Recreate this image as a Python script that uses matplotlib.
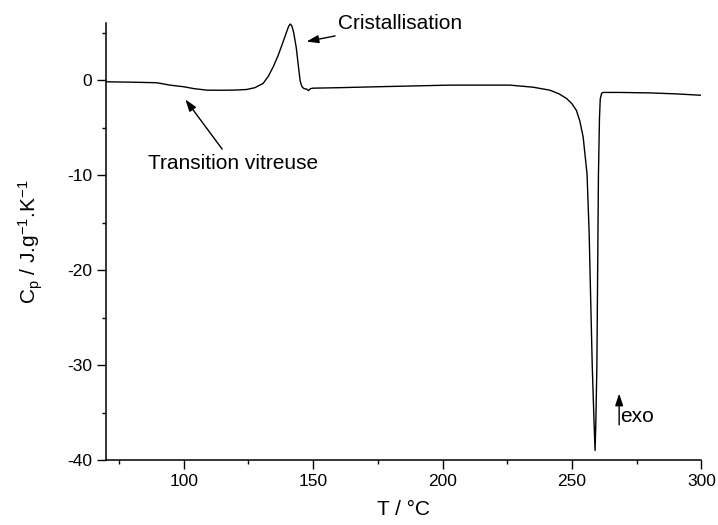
import matplotlib
matplotlib.use('Agg')
import matplotlib.pyplot as plt
from matplotlib.ticker import MultipleLocator

plt.rcParams['font.family'] = ['Liberation Sans', 'DejaVu Sans']
plt.rcParams['mathtext.fontset'] = 'custom'
plt.rcParams['mathtext.rm'] = 'Liberation Sans'
plt.rcParams['mathtext.it'] = 'Liberation Sans'
plt.rcParams['axes.unicode_minus'] = False

# DSC curve
temperature = [70, 80, 89.6, 94.7, 100, 104, 109, 115, 120, 124.3, 127.5,
               130.7, 132.7, 134.6, 136.5, 138.5, 139.8, 140.6, 141.2, 141.8,
               142.5, 143.5, 144.3, 145, 145.7, 146.5, 147.5, 148.2, 149, 150,
               160, 175, 202.8, 226, 235, 241.4, 245, 247.9, 250, 251.7, 253,
               254.3, 255.8, 256.6, 257.8, 258.5, 258.9, 259.2, 259.6, 259.9,
               260.2, 260.6, 260.9, 261.4, 262, 268.5, 280, 290, 300]
cp = [-0.18, -0.22, -0.28, -0.53, -0.7, -0.9, -1.06, -1.07, -1.05, -0.99,
      -0.8, -0.35, 0.4, 1.4, 2.6, 4.1, 5.1, 5.7, 5.9, 5.7, 5.0, 3.4, 1.5,
      -0.1, -0.7, -0.9, -0.95, -1.1, -0.9, -0.85, -0.8, -0.7, -0.53, -0.53,
      -0.75, -1.06, -1.45, -1.94, -2.5, -3.2, -4.3, -6.0, -9.9, -16, -30,
      -36, -39, -36, -30, -20, -10, -4, -2, -1.4, -1.3, -1.3, -1.35, -1.45,
      -1.6]

fig = plt.figure(figsize=(7.18, 5.25), dpi=100)
ax = fig.add_axes([0.1476, 0.1238, 0.977 - 0.1476, 0.956 - 0.1238])
ax.plot(temperature, cp, color='black', lw=1.0)

ax.set_xlim(70, 300)
ax.set_ylim(-40, 6)
ax.xaxis.set_major_locator(MultipleLocator(50))
ax.xaxis.set_minor_locator(MultipleLocator(25))
ax.yaxis.set_major_locator(MultipleLocator(10))
ax.yaxis.set_minor_locator(MultipleLocator(5))
for side in ['top', 'right']:
    ax.spines[side].set_visible(False)
for side in ['left', 'bottom']:
    ax.spines[side].set_linewidth(1.1)
ax.tick_params(which='major', direction='out', length=6.5, width=1.0, labelsize=12.5)
ax.tick_params(which='minor', direction='out', length=3.2, width=1.0)

ax.set_xlabel('T / °C', fontsize=15, labelpad=8)
ax.set_ylabel('C$_\\mathrm{p}$ / J.g$^{-1}$.K$^{-1}$', fontsize=15, labelpad=16)

arrow = dict(arrowstyle='-|>,head_length=0.6,head_width=0.2', color='black',
             lw=1.0, mutation_scale=12)
ax.annotate('Cristallisation', xy=(146.4, 4.0), xytext=(159.6, 6.0),
            fontsize=15, va='center', ha='left', arrowprops=arrow)
ax.annotate('Transition vitreuse', xy=(100, -1.8), xytext=(86.2, -8.8),
            fontsize=15, va='center', ha='left', arrowprops=arrow)
ax.annotate('', xy=(268.2, -33.0), xytext=(268.2, -36.3),
            arrowprops=dict(arrow, shrinkA=0, shrinkB=0))
ax.text(268.6, -35.4, 'exo', fontsize=15, va='center', ha='left')

fig.savefig('out.png', dpi=100)
